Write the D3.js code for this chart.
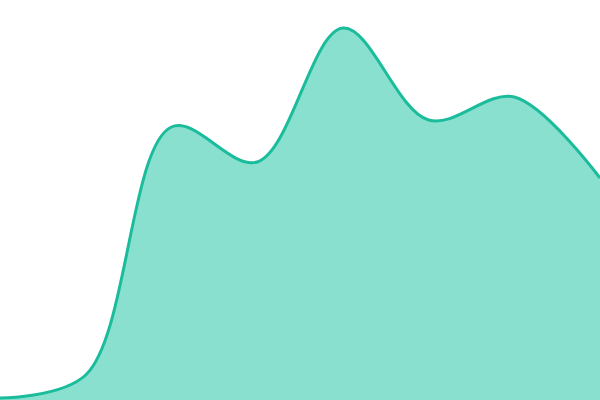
<!DOCTYPE html>
<html>
<head>
<meta charset="utf-8">
<script src="https://cdn.jsdelivr.net/npm/d3@7"></script>
<style>
    body { margin: 0; background: #fff; }
    svg { display: block; }
</style>
</head>
<body>
<div id="chart"></div>
<script>
'use strict';

// evenly spaced samples
var steps = [0, 1, 2, 3, 4, 5, 6, 7];
var values = [2, 25, 273, 238, 372, 280, 303, 222];

var width = 600,
    height = 400;

var svg = d3.select('#chart').append('svg')
    .attr('width', width)
    .attr('height', height);

var x = d3.scaleLinear().domain([0, 7]).range([0, width]);
var y = d3.scaleLinear().domain([0, 400]).range([height, 0]);

var data = steps.map(function (s, i) {
    return { step: s, value: values[i] };
});

var area = d3.area()
    .curve(d3.curveCatmullRom)
    .x(function (d) { return x(d.step); })
    .y0(y(0))
    .y1(function (d) { return y(d.value); });

var line = d3.line()
    .curve(d3.curveCatmullRom)
    .x(function (d) { return x(d.step); })
    .y(function (d) { return y(d.value); });

svg.append('path')
    .datum(data)
    .attr('class', 'flow')
    .attr('fill', '#8ae0cf')
    .attr('d', area);

svg.append('path')
    .datum(data)
    .attr('class', 'line')
    .attr('fill', 'none')
    .attr('stroke', '#1abc9c')
    .attr('stroke-width', 3)
    .attr('d', line);
</script>
</body>
</html>
